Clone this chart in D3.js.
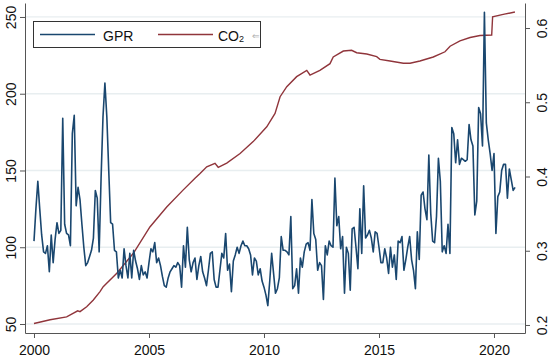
<!DOCTYPE html>
<html>
<head>
<meta charset="utf-8">
<script src="https://cdn.jsdelivr.net/npm/d3@7"></script>
<style>
  body { margin: 0; background: #fff; }
  svg { display: block; }
  text { font-family: "Liberation Sans", Arial, sans-serif; }
</style>
</head>
<body>
<svg id="chart" width="550" height="359"></svg>
<script>
// monthly GPR index, Jan 2000 .. Dec 2020
const gprValues = [
  104, 125, 143, 125, 108, 97, 96, 101, 84, 108, 90, 105,
  116, 109, 111, 184, 115, 109, 108, 101, 174, 186, 127, 139,
  131, 115, 100, 88, 90, 94, 98, 106, 137, 132, 97, 145,
  185, 207, 185, 150, 116, 115, 98, 97, 80, 85, 80, 99,
  88, 80, 96, 80, 98, 91, 86, 79, 88, 82, 84, 80,
  90, 99, 97, 103, 90, 93, 88, 81, 75, 74, 80, 84,
  86, 88, 87, 90, 88, 74, 101, 87, 113, 92, 84, 90,
  93, 79, 88, 94, 84, 80, 75, 85, 96, 97, 79, 74,
  74, 85, 96, 93, 109, 85, 89, 71, 91, 95, 100, 96,
  101, 104, 101, 101, 99, 95, 82, 93, 91, 82, 86, 78,
  74, 69, 62, 78, 96, 83, 70, 73, 80, 107, 98, 98,
  97, 95, 120, 73, 75, 86, 70, 93, 87, 97, 102, 103,
  98, 131, 109, 105, 85, 90, 88, 66, 101, 95, 104, 101,
  100, 145, 114, 120, 99, 107, 70, 100, 96, 72, 112, 113,
  100, 86, 125, 96, 140, 106, 108, 111, 106, 97, 110, 109,
  100, 90, 90, 99, 93, 83, 100, 87, 95, 79, 104, 103,
  107, 85, 92, 100, 107, 92, 85, 73, 110, 92, 134, 136,
  125, 118, 160, 122, 104, 103, 120, 158, 143, 97, 101, 96,
  115, 96, 178, 174, 155, 170, 154, 158, 157, 156, 157, 180,
  170, 166, 121, 130, 191, 187, 166, 253, 181, 170, 161, 150,
  161, 109, 133, 136, 150, 154, 154, 132, 151, 144, 137, 139
];

// CO2 series, read at points along the curve (decimal year, value)
const co2Years = [
  2000.0, 2000.7, 2001.42, 2001.9, 2002.0, 2002.29, 2002.58, 2002.87, 2003.01, 2003.6,
  2004.32, 2005.04, 2005.77, 2006.49, 2007.0, 2007.22, 2007.51, 2007.87, 2008.01, 2008.38,
  2008.96, 2009.53, 2010.12, 2010.48, 2010.7, 2010.99, 2011.42, 2011.86, 2012.0, 2012.43,
  2012.87, 2013.01, 2013.45, 2013.81, 2014.03, 2014.47, 2014.9, 2015.04, 2015.48, 2016.06,
  2016.35, 2016.78, 2017.36, 2017.87, 2018.09, 2018.52, 2018.96, 2019.39, 2019.9, 2019.94,
  2020.4, 2020.91
];
const co2Values = [
  0.202, 0.207, 0.211, 0.219, 0.218, 0.2246, 0.2337, 0.245, 0.2516, 0.2697,
  0.2966, 0.332, 0.359, 0.382, 0.3976, 0.404, 0.413, 0.4178, 0.4124, 0.418,
  0.431, 0.447, 0.467, 0.485, 0.5075, 0.521, 0.5345, 0.543, 0.5367, 0.543,
  0.552, 0.561, 0.569, 0.570, 0.5667, 0.565, 0.5614, 0.5578, 0.5556, 0.5525,
  0.5525, 0.5556, 0.561, 0.568, 0.5755, 0.5826, 0.5872, 0.590, 0.5906, 0.6151,
  0.6184, 0.6215
];

const leftTicks = [50, 100, 150, 200, 250];
const rightTicks = [0.2, 0.3, 0.4, 0.5, 0.6];
const yearTicks = [2000, 2005, 2010, 2015, 2020];

const Colours = { gpr: "#1a476f", co2: "#90353b", grid: "#e8eef0", axis: "#555", text: "#111" };
const Plot = { left: 25, right: 525, top: 3, bottom: 333 };

const svg = d3.select("#chart");

const x = d3.scaleLinear().domain([1999.609, 2021.348]).range([Plot.left, Plot.right]);
const yL = d3.scaleLinear().domain([44.14, 259.1]).range([Plot.bottom, Plot.top]);
const yR = d3.scaleLinear().domain([0.1892, 0.6337]).range([Plot.bottom, Plot.top]);

// gridlines on the left axis ticks
svg.append("g")
  .selectAll("line")
  .data(leftTicks)
  .join("line")
  .attr("x1", Plot.left).attr("x2", Plot.right)
  .attr("y1", d => yL(d)).attr("y2", d => yL(d))
  .attr("stroke", Colours.grid)
  .attr("stroke-width", 1.3);

function styleAxis(g) {
  g.selectAll(".domain").attr("stroke", Colours.axis);
  g.selectAll(".tick line").attr("stroke", Colours.axis);
  g.selectAll("text").attr("fill", Colours.text).attr("font-size", 14);
}

// left axis
svg.append("g")
  .attr("transform", `translate(${Plot.left},0)`)
  .call(d3.axisLeft(yL).tickValues(leftTicks).tickSize(5).tickSizeOuter(0))
  .call(styleAxis)
  .call(g => g.selectAll("text")
    .attr("transform", "rotate(-90)")
    .attr("text-anchor", "middle")
    .attr("x", 0).attr("y", -9).attr("dy", 0));

// right axis
svg.append("g")
  .attr("transform", `translate(${Plot.right},0)`)
  .call(d3.axisRight(yR).tickValues(rightTicks).tickFormat(d3.format(".1f")).tickSize(5).tickSizeOuter(0))
  .call(styleAxis)
  .call(g => g.selectAll("text")
    .attr("transform", "rotate(-90)")
    .attr("text-anchor", "middle")
    .attr("x", 0).attr("y", 22).attr("dy", 0));

// bottom axis
svg.append("g")
  .attr("transform", `translate(0,${Plot.bottom})`)
  .call(d3.axisBottom(x).tickValues(yearTicks).tickFormat(d3.format("d")).tickSize(5).tickSizeOuter(0))
  .call(styleAxis)
  .call(g => g.selectAll("text").attr("y", 12));

// CO2 line (right axis)
const co2Data = co2Years.map((yr, i) => [yr, co2Values[i]]);
svg.append("path")
  .datum(co2Data)
  .attr("fill", "none")
  .attr("stroke", Colours.co2)
  .attr("stroke-width", 1.4)
  .attr("d", d3.line().x(d => x(d[0])).y(d => yR(d[1])));

// GPR line (left axis)
svg.append("path")
  .datum(gprValues)
  .attr("fill", "none")
  .attr("stroke", Colours.gpr)
  .attr("stroke-width", 1.6)
  .attr("stroke-linejoin", "round")
  .attr("d", d3.line().x((d, i) => x(2000 + i / 12)).y(d => yL(d)));

// legend
const legend = svg.append("g");
legend.append("rect")
  .attr("x", 33.5).attr("y", 21.5).attr("width", 227).attr("height", 26)
  .attr("fill", "#fff").attr("stroke", "#333").attr("stroke-width", 1);
legend.append("line")
  .attr("x1", 40).attr("x2", 95).attr("y1", 34.5).attr("y2", 34.5)
  .attr("stroke", Colours.gpr).attr("stroke-width", 1.6);
legend.append("text")
  .attr("x", 103).attr("y", 40.5).attr("font-size", 14).attr("fill", Colours.text)
  .text("GPR");
legend.append("line")
  .attr("x1", 158).attr("x2", 213).attr("y1", 34.5).attr("y2", 34.5)
  .attr("stroke", Colours.co2).attr("stroke-width", 1.4);
const co2Label = legend.append("text")
  .attr("x", 218).attr("y", 40.5).attr("font-size", 14).attr("fill", Colours.text)
  .text("CO");
co2Label.append("tspan").attr("font-size", 9).attr("dy", 1).text("2");
legend.append("text")
  .attr("x", 252).attr("y", 38.5).attr("font-size", 9).attr("fill", "#aaa")
  .text("⇐");
</script>
</body>
</html>
